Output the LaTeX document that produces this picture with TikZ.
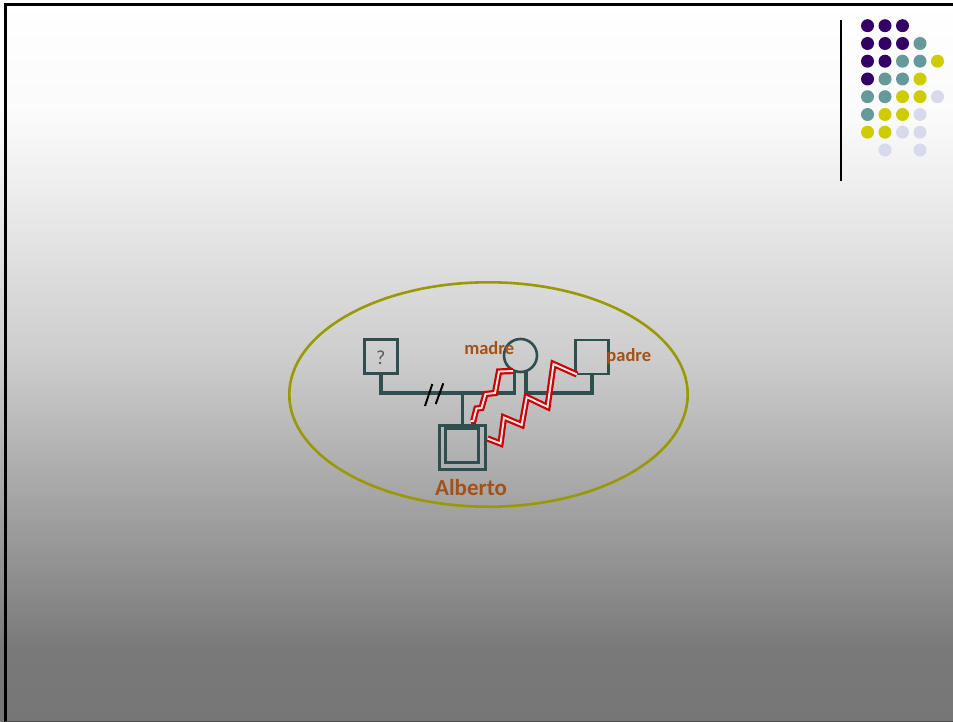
\documentclass[tikz,border=0pt]{standalone}
\usepackage{fontspec}
\setmainfont{Carlito}
\usetikzlibrary{calc}
\definecolor{geno}{RGB}{47,79,79}
\definecolor{brn}{RGB}{163,82,22}
\definecolor{olv}{RGB}{153,153,0}
\definecolor{zred}{RGB}{204,0,0}
\definecolor{dP}{RGB}{51,0,102}
\definecolor{dT}{RGB}{102,153,153}
\definecolor{dY}{RGB}{204,204,0}
\definecolor{dL}{RGB}{217,217,236}
\definecolor{gA}{RGB}{250,250,250}
\definecolor{gB}{RGB}{204,204,204}
\definecolor{gC}{RGB}{121,121,121}
\definecolor{gD}{RGB}{118,118,118}
\definecolor{qgray}{RGB}{89,89,89}
\tikzset{
  sq/.style={draw=geno, line width=2.6pt, rectangle, minimum width=33pt, minimum height=34pt, inner sep=0pt, outer sep=0pt},
  fem/.style={draw=geno, line width=2.6pt, circle, minimum size=33pt, inner sep=0pt, outer sep=0pt},
  rel/.style={draw=geno, line width=3.5pt},
  lbl/.style={text=brn, font=\bfseries\fontsize{18.5}{20}\selectfont, inner sep=0pt, anchor=base},
  hostile/.style={draw=zred, line width=2.2pt, double=white!85!gray, double distance=1.9pt, line join=miter},
  dotc/.style={radius=6.5pt}
}
\begin{document}
\begin{tikzpicture}[x=1pt,y=-1pt]
\useasboundingbox (0,0) rectangle (953,722);
% background gradient
\shade[top color=white, bottom color=gA] (0,0) rectangle (953,120.5);
\shade[top color=gA, bottom color=gB] (0,120) rectangle (953,361.5);
\shade[top color=gB, bottom color=gC] (0,361) rectangle (953,650.5);
\shade[top color=gC, bottom color=gD] (0,650) rectangle (953,722);
% frame
\draw[black, line width=3pt] (5.5,722) -- (5.5,4.5) -- (953,4.5);
\draw[black!70, line width=1.5pt] (5,721.3) -- (953,721.3);
% decorative vertical line and dots
\draw[black, line width=2pt] (841,20) -- (841,181);
\foreach \c [count=\i] in {dP,dP,dP}{\fill[\c] ({850+17.5*\i},25.7) circle[dotc];}
\foreach \c [count=\i] in {dP,dP,dP,dT}{\fill[\c] ({850+17.5*\i},43.5) circle[dotc];}
\foreach \c [count=\i] in {dP,dP,dT,dT,dY}{\fill[\c] ({850+17.5*\i},61.2) circle[dotc];}
\foreach \c [count=\i] in {dP,dT,dT,dY}{\fill[\c] ({850+17.5*\i},79) circle[dotc];}
\foreach \c [count=\i] in {dT,dT,dY,dY,dL}{\fill[\c] ({850+17.5*\i},96.7) circle[dotc];}
\foreach \c [count=\i] in {dT,dY,dY,dL}{\fill[\c] ({850+17.5*\i},114.5) circle[dotc];}
\foreach \c [count=\i] in {dY,dY,dL,dL}{\fill[\c] ({850+17.5*\i},132.2) circle[dotc];}
\fill[dL] (885,150) circle[dotc];
\fill[dL] (920,150) circle[dotc];
% ellipse
\draw[olv, line width=2.6pt] (488.5,394.5) ellipse [x radius=199.2, y radius=112.2];
% genogram people
\node[sq] (q) at (381.2,356.7) {};
\node[text=qgray, font=\fontsize{20}{22}\selectfont, inner sep=0pt, anchor=base] (qt) at (380.8,364.3) {?};
\node[fem] (m) at (520.5,355.5) {};
\node[sq] (p) at (591.8,357) {};
\node[draw=geno, line width=3.2pt, rectangle, minimum width=45.5pt, minimum height=43.5pt, inner sep=0pt, outer sep=0pt] (a) at (462.5,447.5) {};
\node[draw=geno, line width=3pt, rectangle, minimum width=32.3pt, minimum height=34.4pt, inner sep=0pt, outer sep=0pt] (ai) at (461.9,445.5) {};
% labels
\node[lbl] (tm) at (489.2,354.3) {madre};
\node[lbl] (tp) at (628.8,361.5) {padre};
\node[lbl, font=\bfseries\fontsize{23}{25}\selectfont] (ta) at (471,495) {Alberto};
% relationship lines
\coordinate (hl) at (0,393);
\coordinate (c) at (462.5,393);
\draw[rel] (q.south) |- (m.-111 |- hl) -- (m.-111);
\draw[rel] (m.-70) -- (m.-70 |- hl) -| (p.south);
\draw[rel] (c) -- (a.north);
% divorce slashes
\draw[black, line width=2pt] (425,406) -- (432.3,384) (435.7,404) -- (443.3,383.3);
% hostile zigzags
\draw[hostile] (513,371) -- (499,371.5) -- (495,393) -- (485.5,394) -- (481.5,408) -- (476.5,408.5) -- (473.3,421) -- (471,421);
\draw[hostile] (577,374.5) -- (553.5,364) -- (547.5,407) -- (526.7,397) -- (521.7,425) -- (504,417.5) -- (500.5,443.5) -- (487.5,438.5);
\end{tikzpicture}
\end{document}
